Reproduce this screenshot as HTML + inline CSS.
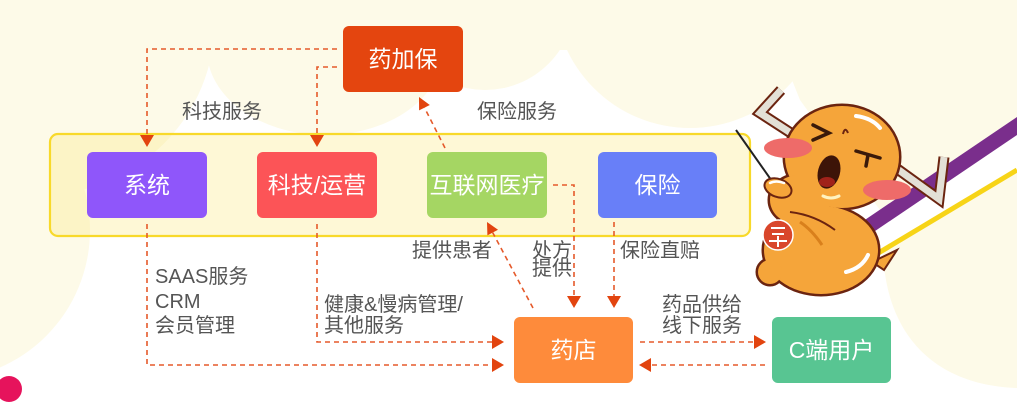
<!DOCTYPE html>
<html><head><meta charset="utf-8"><style>
html,body{margin:0;padding:0;background:#fff;}
svg{display:block;}
text{font-family:"Liberation Sans","Noto Sans CJK SC",sans-serif;}
.lb{font-size:20px;fill:#555;dominant-baseline:central;}
.nd{font-size:23px;fill:#fff;dominant-baseline:central;text-anchor:middle;}
.dl{fill:none;stroke:#e55a2b;stroke-width:1.6;stroke-dasharray:5 4;}
.ar{fill:#e2440f;}
</style></head><body>
<svg width="1017" height="418" viewBox="0 0 1017 418" xmlns="http://www.w3.org/2000/svg">
<!-- background -->
<rect x="0" y="0" width="1017" height="418" fill="#ffffff"/>
<g fill="#fdfae8">
<rect x="0" y="0" width="1017" height="50"/>
<circle cx="40" cy="20" r="175"/>
<circle cx="-60" cy="230" r="150"/>
<ellipse cx="325" cy="50" rx="118" ry="85"/>
<circle cx="485" cy="0" r="90"/>
<circle cx="690" cy="-8" r="136"/>
<polygon points="760,0 1017,0 1017,117 880,210 800,100"/>
<path d="M883 250 C885 330 930 385 1017 388 L1017 170 Z"/>
</g>
<circle cx="9" cy="389" r="13" fill="#e6135c"/>

<!-- container -->
<rect x="50" y="134" width="700" height="102" rx="8" fill="rgba(252,232,120,0.3)" stroke="#f8d92a" stroke-width="2.2"/>

<!-- connectors -->
<path class="dl" d="M337 49 H147 V135"/>
<polygon class="ar" points="140,135 154,135 147,147"/>
<path class="dl" d="M337 67 H317 V135"/>
<polygon class="ar" points="310,135 324,135 317,147"/>
<line class="dl" x1="445" y1="148" x2="424.5" y2="107.7"/>
<polygon class="ar" points="419,97 429.8,105 419.1,110.4"/>
<path class="dl" d="M553 185 H574 V296"/>
<polygon class="ar" points="567,296 581,296 574,308"/>
<path class="dl" d="M614 222 V296"/>
<polygon class="ar" points="607,296 621,296 614,308"/>
<line class="dl" x1="533" y1="308" x2="492.7" y2="232.6"/>
<polygon class="ar" points="487,222 498,229.8 487.4,235.4"/>
<path class="dl" d="M147 224 V365 H492"/>
<polygon class="ar" points="492,358 492,372 504,365"/>
<path class="dl" d="M317 224 V342 H492"/>
<polygon class="ar" points="492,335 492,349 504,342"/>
<path class="dl" d="M640 342 H754"/>
<polygon class="ar" points="754,335 754,349 766,342"/>
<path class="dl" d="M765 365 H651"/>
<polygon class="ar" points="651,358 651,372 639,365"/>

<!-- nodes -->
<rect x="343" y="26" width="120" height="66" rx="6" fill="#e4450f"/>
<text class="nd" x="403" y="59">药加保</text>
<rect x="87" y="152" width="120" height="66" rx="6" fill="#8f56fa"/>
<text class="nd" x="147" y="185">系统</text>
<rect x="257" y="152" width="120" height="66" rx="6" fill="#fc5457"/>
<text class="nd" x="317" y="185">科技/运营</text>
<rect x="427" y="152" width="120" height="66" rx="6" fill="#a5d663"/>
<text class="nd" x="487" y="185">互联网医疗</text>
<rect x="598" y="152" width="119" height="66" rx="6" fill="#687ff8"/>
<text class="nd" x="657.5" y="185">保险</text>
<rect x="514" y="317" width="119" height="66" rx="6" fill="#fe8b3b"/>
<text class="nd" x="573.5" y="350">药店</text>
<rect x="772" y="317" width="119" height="66" rx="6" fill="#58c592"/>
<text class="nd" x="831.5" y="350">C端用户</text>

<!-- labels -->
<text class="lb" x="182" y="112">科技服务</text>
<text class="lb" x="477" y="112">保险服务</text>
<text class="lb" x="412" y="251">提供患者</text>
<text class="lb" x="532" y="251">处方</text>
<text class="lb" x="532" y="269">提供</text>
<text class="lb" x="620" y="251">保险直赔</text>
<text class="lb" x="155" y="277">SAAS服务</text>
<text class="lb" x="155" y="302">CRM</text>
<text class="lb" x="155" y="326">会员管理</text>
<text class="lb" x="324" y="305">健康&amp;慢病管理/</text>
<text class="lb" x="324" y="326">其他服务</text>
<text class="lb" x="662" y="305">药品供给</text>
<text class="lb" x="662" y="326">线下服务</text>

<!-- stripes -->
<polygon points="850,230 1017,117 1017,135 850,248" fill="#7a2e8c"/>
<line x1="860" y1="264" x2="1017" y2="170" stroke="#f7d417" stroke-width="5"/>

<!-- bull -->
<polyline points="781,90 760,113 797,137" fill="none" stroke="#6b2410" stroke-width="11" stroke-linejoin="miter"/>
<polyline points="781,90 760,113 797,137" fill="none" stroke="#e3e0d6" stroke-width="7" stroke-linejoin="miter"/>
<polyline points="896,168 939,199 944,157" fill="none" stroke="#6b2410" stroke-width="11" stroke-linejoin="miter"/>
<polyline points="896,168 939,199 944,157" fill="none" stroke="#e3e0d6" stroke-width="7" stroke-linejoin="miter"/>
<polygon points="872,262 897,250 884,270" fill="#f5a53a" stroke="#6b2410" stroke-width="2"/>
<g fill="#6b2410" stroke="#6b2410" stroke-width="5">
<ellipse cx="842" cy="157" rx="57" ry="51"/>
<ellipse cx="821" cy="250" rx="57" ry="44"/>
<ellipse cx="770" cy="272" rx="12" ry="12"/>
<ellipse cx="800" cy="200" rx="30" ry="25"/>
</g>
<g fill="#f5a53a">
<ellipse cx="842" cy="157" rx="57" ry="51"/>
<ellipse cx="821" cy="250" rx="57" ry="44"/>
<ellipse cx="770" cy="272" rx="12" ry="12"/>
<ellipse cx="800" cy="200" rx="30" ry="25"/>
</g>
<path d="M790 212 Q815 215 835 230" fill="none" stroke="#6b2410" stroke-width="2"/>
<path d="M800 222 Q812 230 822 245" fill="none" stroke="#d9801c" stroke-width="3"/>
<path d="M856 116 Q872 118 880 128" fill="none" stroke="#fff" stroke-width="4" stroke-linecap="round"/>
<path d="M846 272 Q862 268 868 255" fill="none" stroke="#fff" stroke-width="4" stroke-linecap="round"/>
<ellipse cx="788" cy="148" rx="24" ry="10" fill="#ee6b69"/>
<ellipse cx="887" cy="190" rx="24" ry="10" fill="#ee6b69"/>
<polyline points="813,125 829,133 813,140" fill="none" stroke="#3a1a0a" stroke-width="3.5" stroke-linecap="round"/>
<line x1="856" y1="151" x2="880" y2="158" stroke="#3a1a0a" stroke-width="3.5" stroke-linecap="round"/>
<line x1="868" y1="155" x2="866" y2="166" stroke="#3a1a0a" stroke-width="3.5" stroke-linecap="round"/>
<path d="M843 134 Q845 126 848 133" fill="none" stroke="#6b2410" stroke-width="2"/>
<ellipse cx="829" cy="172" rx="11" ry="17" transform="rotate(15 829 172)" fill="#3d1408"/>
<ellipse cx="827" cy="182" rx="8" ry="5" fill="#a0221a"/>
<path d="M823 196 Q831 200 839 196" fill="none" stroke="#fff3c0" stroke-width="3" stroke-linecap="round"/>
<circle cx="778" cy="235" r="15" fill="#d9462b" stroke="#fff" stroke-width="1.5"/>
<line x1="771" y1="228" x2="785" y2="228" stroke="#fff" stroke-width="2"/>
<line x1="772" y1="234" x2="784" y2="234" stroke="#fff" stroke-width="2"/>
<line x1="769" y1="241" x2="787" y2="241" stroke="#fff" stroke-width="2"/>
<line x1="778" y1="236" x2="778" y2="247" stroke="#fff" stroke-width="2"/>
<line x1="736" y1="130" x2="774" y2="184" stroke="#222" stroke-width="2"/>
<ellipse cx="778" cy="188" rx="14" ry="9" transform="rotate(20 778 188)" fill="#f5a53a" stroke="#6b2410" stroke-width="2"/>
<path d="M770 183 Q776 180 784 183" fill="none" stroke="#fff" stroke-width="2.5" stroke-linecap="round"/>
</svg>
</body></html>
